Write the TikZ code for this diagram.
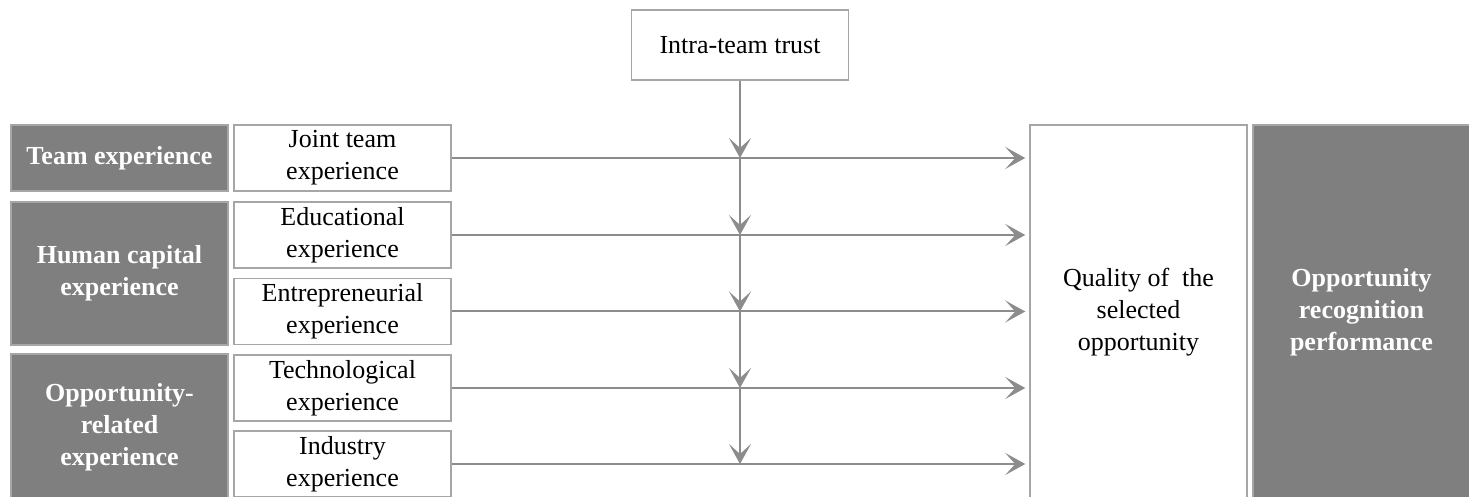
\documentclass[tikz,border=0pt]{standalone}
\usepackage{fontspec}
\setmainfont{Liberation Serif}
\usetikzlibrary{arrows.meta}

\definecolor{boxgray}{HTML}{7F7F7F}
\definecolor{edgegray}{HTML}{A6A6A6}
\definecolor{arrgray}{HTML}{8C8C8C}

\tikzset{
  lightbox/.style={draw=edgegray, line width=0.75pt, fill=white, align=center,
    inner sep=0pt, minimum width=108.5pt, minimum height=33pt,
    font=\fontsize{13}{16}\selectfont},
  darkbox/.style={lightbox, fill=boxgray, text=white,
    font=\fontsize{13}{16}\selectfont\bfseries},
  arr/.style={draw=arrgray, line width=1pt,
    -{Stealth[length=10pt, width=11pt, inset=5pt]}}
}

\begin{document}
\begin{tikzpicture}[x=0.5pt, y=-0.5pt]
    \useasboundingbox (0,0) rectangle (1469,497);
    % moderator
    \node[lightbox, minimum height=35pt] (trust) at (740,45) {Intra-team trust};
    % groups of experience
    \node[darkbox] (team) at (119.5,158) {Team experience};
    \node[darkbox, minimum height=71.5pt] (human) at (119.5,273.5) {Human capital\\experience};
    \node[darkbox, minimum height=73pt] (opprel) at (119.5,427) {Opportunity-\\related\\experience};
    % single variables
    \node[lightbox] (joint) at (342.5,158) {Joint team\\experience};
    \node[lightbox] (educ) at (342.5,235) {Educational\\experience};
    \node[lightbox] (entre) at (342.5,311.5) {Entrepreneurial\\experience};
    \node[lightbox] (techn) at (342.5,388) {Technological\\experience};
    \node[lightbox] (indus) at (342.5,464) {Industry\\experience};
    % outcome
    \node[lightbox, minimum height=187pt] (quality) at (1138.5,312) {Quality of~ the\\selected\\opportunity};
    \node[darkbox, minimum height=187pt] (perf) at (1361.5,312) {Opportunity\\recognition\\performance};

    \foreach \n [count=\k] in {joint,educ,entre,techn,indus}{
        \coordinate (v\k) at (trust |- \n);
        \draw[arr, shorten >=2pt] (\n) -- (\n -| quality.west);
      }
    \foreach \a/\b in {trust/v1,v1/v2,v2/v3,v3/v4,v4/v5}
        \draw[arr] (\a) -- (\b);
  \end{tikzpicture}
\end{document}
